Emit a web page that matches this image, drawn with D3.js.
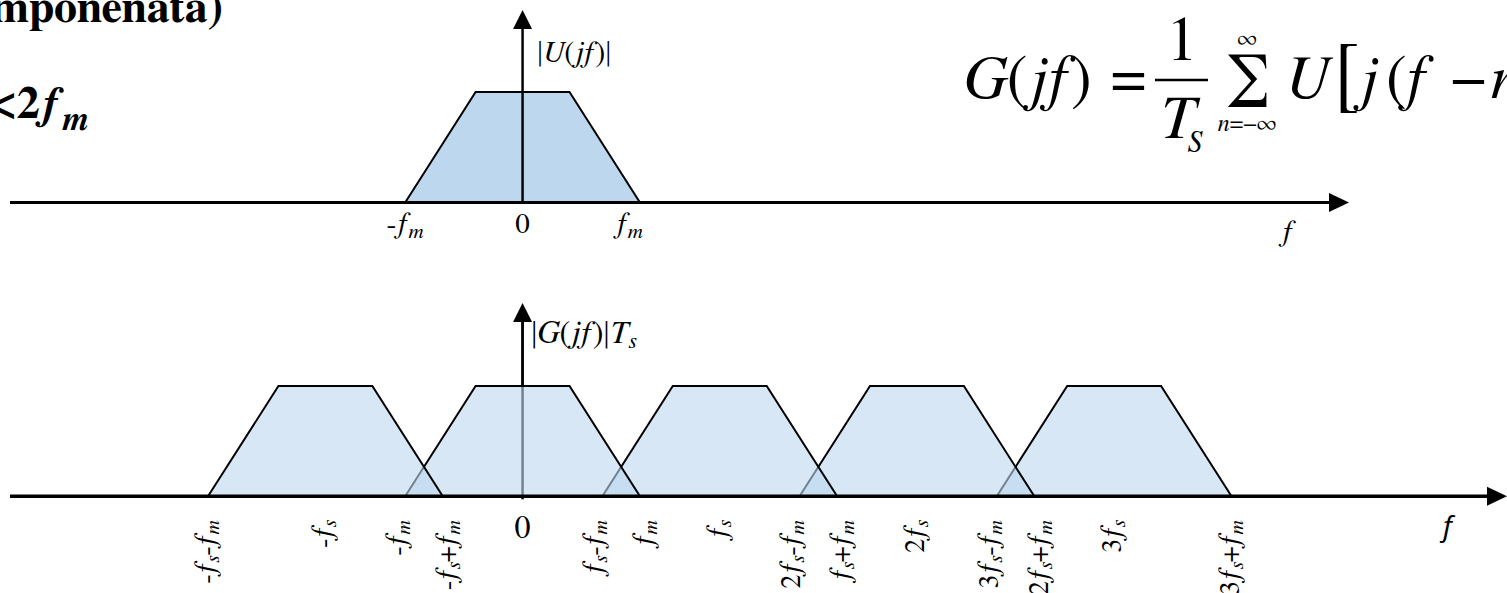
<!DOCTYPE html>
<html>
<head>
<meta charset="utf-8">
<script src="https://cdn.jsdelivr.net/npm/d3@7"></script>
<style>
  html, body { margin: 0; padding: 0; background: #fff; overflow: hidden; }
  svg { display: block; }
  svg text { font-family: "FreeSerif", "Liberation Serif", serif; }
  svg text.sans { font-family: "Noto Sans", "DejaVu Sans", sans-serif; }
</style>
</head>
<body>
<script>
// Frequencies are expressed in units of f_m
const fm = 1;
const fs = 1.68;

// Baseband spectrum |U(jf)|: corner frequencies and relative levels
const shapeFreqs = [-1, -0.4, 0.4, 1];
const shapeLevels = [0, 1, 1, 0];

// Spectral replicas n*fs drawn in the sampled spectrum
const replicaOrders = [-1, 0, 1, 2, 3];

// Tick values and labels ("_" marks a subscript character)
const topTickValues = [-fm, 0, fm];
const topTickLabels = ["-f_m", "0", "f_m"];
const tickValues = [-fs - fm, -fs, -fm, -fs + fm, 0, fs - fm, fm, fs,
                    2 * fs - fm, fs + fm, 2 * fs, 3 * fs - fm, 2 * fs + fm, 3 * fs, 3 * fs + fm];
const tickLabels = ["-f_s-f_m", "-f_s", "-f_m", "-f_s+f_m", "0", "f_s-f_m", "f_m", "f_s",
                    "2f_s-f_m", "f_s+f_m", "2f_s", "3f_s-f_m", "2f_s+f_m", "3f_s", "3f_s+f_m"];

const W = 1507, H = 593;

const svg = d3.select("body").append("svg")
  .attr("width", W).attr("height", H);

const x = d3.scaleLinear().domain([-fs - fm, 3 * fs + fm]).range([208, 1231.5]);
const yTop = d3.scaleLinear().domain([0, 1]).range([202.5, 92]);
const yBot = d3.scaleLinear().domain([0, 1]).range([496.3, 386]);

const fillColor = "#bdd7ee";

// Writes a label into a text node, italicising letters and lowering subscripts
function rich(text, str, size, subSize, shift) {
  text.attr("font-size", size);
  let sub = false, lowered = false;
  for (const ch of str) {
    if (ch === "_") { sub = true; continue; }
    const t = text.append("tspan").text(ch)
      .attr("font-style", /[a-zA-Z]/.test(ch) ? "italic" : "normal");
    if (sub) {
      t.attr("font-size", subSize);
      if (!lowered) { t.attr("dy", shift); lowered = true; }
    } else if (lowered) {
      t.attr("dy", -shift); lowered = false;
    }
    sub = false;
  }
  return text;
}

function hArrow(y, x0, x1, w) {
  svg.append("line").attr("x1", x0).attr("x2", x1 - 18).attr("y1", y).attr("y2", y)
    .attr("stroke", "#000").attr("stroke-width", w);
  svg.append("path")
    .attr("d", `M${x1},${y} L${x1 - 20},${y - 9.5} L${x1 - 20},${y + 9.5} Z`)
    .attr("fill", "#000");
}
function vLine(xp, y0, y1, w) {
  svg.append("line").attr("x1", xp).attr("x2", xp).attr("y1", y0).attr("y2", y1)
    .attr("stroke", "#000").attr("stroke-width", w);
}
function vHead(xp, y1) {
  svg.append("path")
    .attr("d", `M${xp},${y1} L${xp - 9.5},${y1 + 19} L${xp + 9.5},${y1 + 19} Z`)
    .attr("fill", "#000");
}

const trap = (yScale, shift) => d3.line()
  .x((d, i) => x(shapeFreqs[i] + shift))
  .y(d => yScale(d));

// ---------- upper panel: |U(jf)| ----------
svg.append("path")
  .attr("d", trap(yTop, 0)(shapeLevels) + "Z")
  .attr("fill", fillColor)
  .attr("stroke", "#000").attr("stroke-width", 2).attr("stroke-linejoin", "miter");

hArrow(yTop(0), 10, 1349, 3);
vLine(x(0), yTop(0), 27, 2.5);
vHead(x(0), 10);

svg.append("text").attr("x", 537).attr("y", 62)
  .call(t => rich(t, "|U(jf)|", 30, 21, 5));

// negative ticks and zero are centred, positive ticks sit just left of their frequency
topTickValues.forEach((v, i) => {
  svg.append("text")
    .attr("x", v > 0 ? x(v) + 3 : x(v))
    .attr("y", 233)
    .attr("text-anchor", v > 0 ? "end" : "middle")
    .call(t => rich(t, topTickLabels[i], 29, 21, 5));
});
svg.append("text").attr("x", 1281).attr("y", 241)
  .attr("font-size", 30).attr("font-style", "italic").text("f");

// ---------- lower panel: |G(jf)|/Ts ----------
// axis first so the translucent replicas tint it
vLine(x(0), yBot(0) + 3, 320, 2.5);

// replicas are stacked right-to-left so each left neighbour overlays the next
replicaOrders.slice().reverse().forEach(n => {
  svg.append("path")
    .attr("d", trap(yBot, n * fs)(shapeLevels) + "Z")
    .attr("fill", fillColor).attr("fill-opacity", 0.6)
    .attr("stroke", "#000").attr("stroke-width", 2)
    .attr("stroke-linejoin", "miter");
});
// visible part of the vertical axis above the replicas
vLine(x(0), yBot(1), 320, 2.5);
vHead(x(0), 303);
hArrow(yBot(0), 10, 1507, 3.5);

svg.append("text").attr("x", 531).attr("y", 343)
  .call(t => rich(t, "|G(jf)|T_s", 32, 22, 5));

// tick labels: rotated, nudged apart where neighbours crowd
const rotated = tickValues.map((v, i) => ({ v, label: tickLabels[i], px: x(v) }))
  .filter(d => d.label !== "0");
for (let i = 1; i < rotated.length; i++) {
  const gap = rotated[i].px - rotated[i - 1].px;
  if (gap < 50) {
    const d = (50 - gap) / 2;
    rotated[i - 1].px -= d;
    rotated[i].px += d;
  }
}
rotated.forEach(d => {
  svg.append("text")
    .attr("transform", `translate(${d.px + 7},520) rotate(-90)`)
    .attr("text-anchor", "end")
    .call(t => rich(t, d.label, 28, 20, 4));
});
svg.append("text").attr("x", x(0)).attr("y", 538).attr("text-anchor", "middle")
  .attr("font-size", 32).text("0");
svg.append("text").attr("class", "sans").attr("x", 1443).attr("y", 536)
  .attr("font-size", 28).attr("font-style", "italic").text("f");

// ---------- heading fragments ----------
svg.append("text").attr("x", 223).attr("y", 22)
  .attr("text-anchor", "end").attr("font-size", 46).attr("font-weight", "bold")
  .text("mponenata)");
const cond = svg.append("text").attr("x", 88).attr("y", 118)
  .attr("text-anchor", "end").attr("font-size", 46).attr("font-weight", "bold");
cond.append("tspan").text("<2");
cond.append("tspan").attr("font-style", "italic").text("f");
cond.append("tspan").attr("font-style", "italic").attr("font-size", 34).attr("dy", 12).text("m");

// ---------- formula G(jf) = 1/Ts * sum U[j(f - n...)] ----------
const F = svg.append("g").attr("fill", "#000");
const g1 = F.append("text").attr("x", 964).attr("y", 98).attr("font-size", 62);
g1.append("tspan").attr("font-style", "italic").text("G");
g1.append("tspan").text("(");
g1.append("tspan").attr("font-style", "italic").text("jf");
g1.append("tspan").text(")");
F.append("text").attr("x", 1111).attr("y", 98).attr("font-size", 62).text("=");
F.append("line").attr("x1", 1155).attr("x2", 1208).attr("y1", 80).attr("y2", 80)
  .attr("stroke", "#000").attr("stroke-width", 2.5);
F.append("text").attr("x", 1182).attr("y", 60).attr("text-anchor", "middle")
  .attr("font-size", 62).text("1");
F.append("text").attr("x", 1159).attr("y", 138).attr("font-size", 62)
  .attr("font-style", "italic").text("T");
F.append("text").attr("x", 1188).attr("y", 152).attr("font-size", 30)
  .attr("font-style", "italic").text("S");
F.append("text").attr("transform", "translate(1248,107) scale(0.88,1)")
  .attr("text-anchor", "middle").attr("font-size", 80).text("Σ");
F.append("text").attr("x", 1247).attr("y", 46).attr("text-anchor", "middle")
  .attr("font-size", 24).text("∞");
const lim = F.append("text").attr("x", 1247).attr("y", 131).attr("text-anchor", "middle")
  .attr("font-size", 24);
lim.append("tspan").attr("font-style", "italic").text("n");
lim.append("tspan").text("=−∞");
F.append("text").attr("x", 1285).attr("y", 98).attr("font-size", 62)
  .attr("font-style", "italic").text("U");
F.append("text").attr("transform", "translate(1334,100) scale(1,1.12)")
  .attr("font-size", 76).text("[");
F.append("text").attr("x", 1358).attr("y", 98).attr("font-size", 62)
  .attr("font-style", "italic").text("j");
F.append("text").attr("x", 1386).attr("y", 98).attr("font-size", 62).text("(");
F.append("text").attr("x", 1403).attr("y", 98).attr("font-size", 62)
  .attr("font-style", "italic").text("f");
F.append("text").attr("x", 1451).attr("y", 98).attr("font-size", 62).text("−");
F.append("text").attr("x", 1491).attr("y", 98).attr("font-size", 62)
  .attr("font-style", "italic").text("n");
</script>
</body>
</html>
